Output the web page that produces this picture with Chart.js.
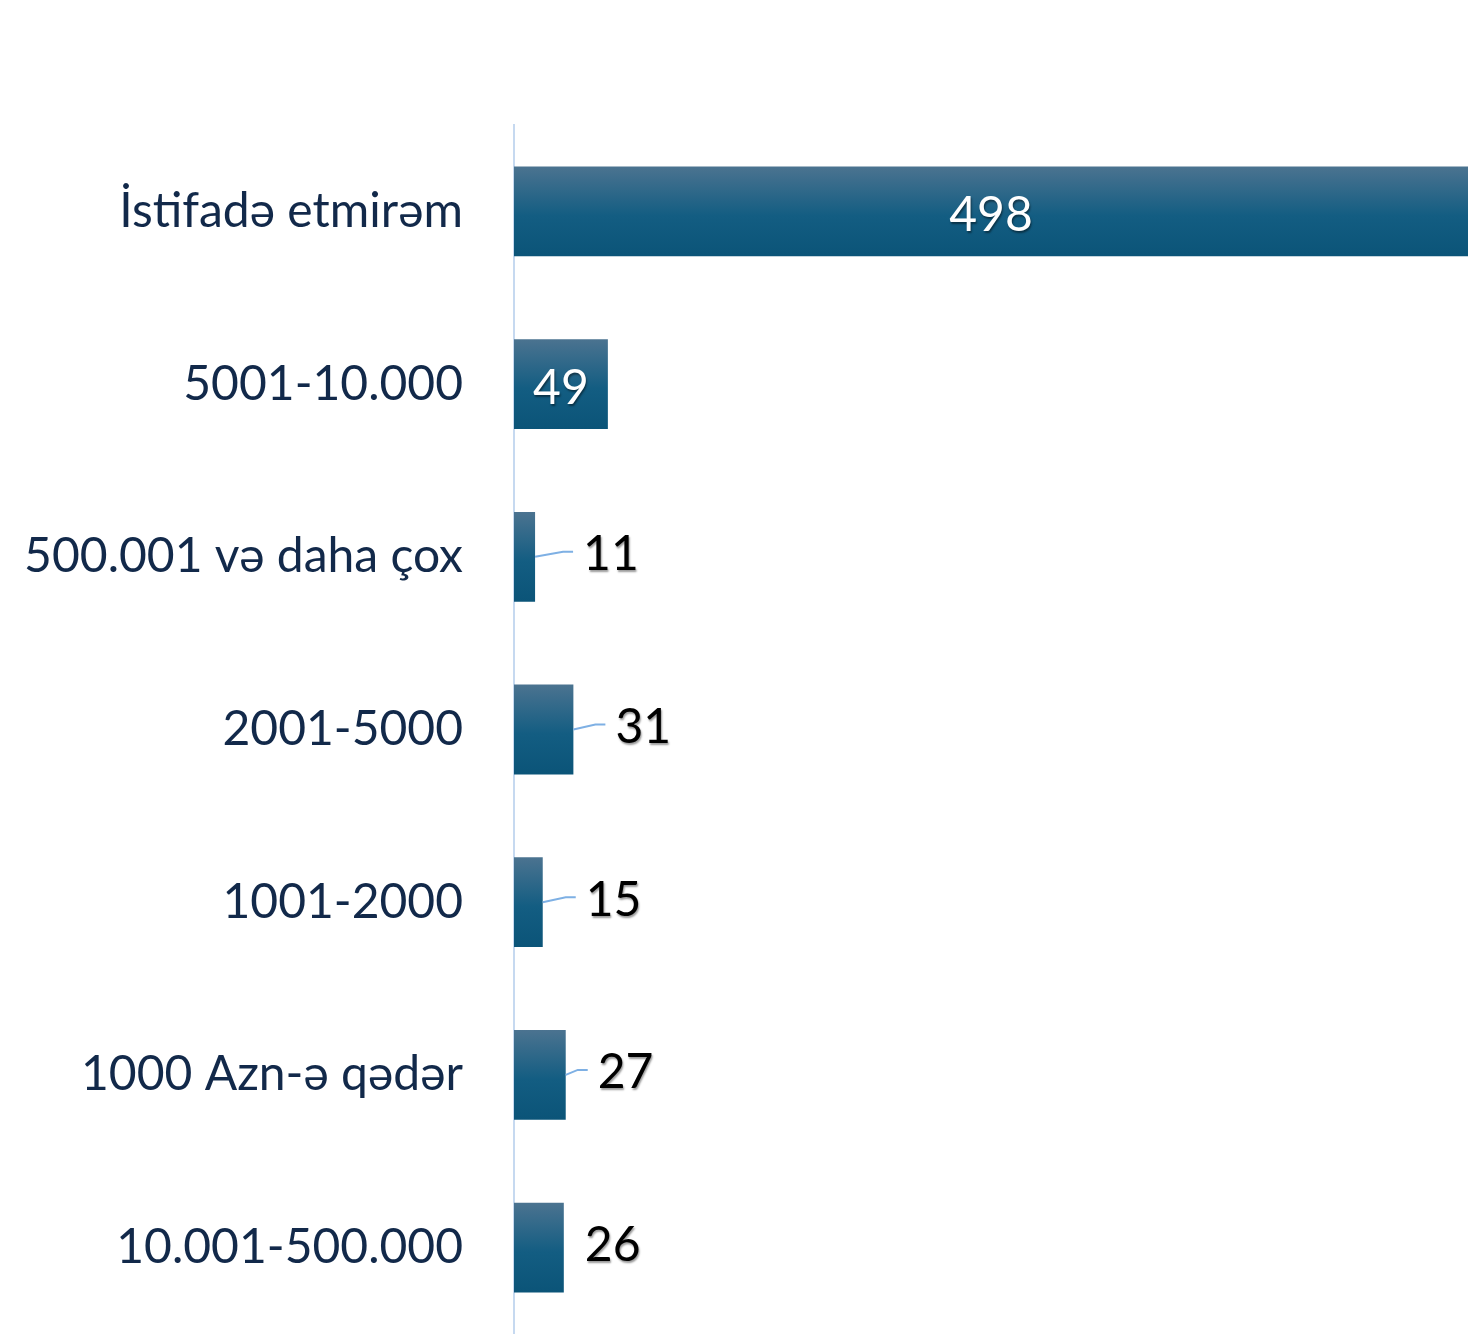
<!DOCTYPE html>
<html>
<head>
<meta charset="utf-8">
<script src="https://cdn.jsdelivr.net/npm/chart.js@4.4.1/dist/chart.umd.min.js"></script>
<style>
  html, body { margin: 0; padding: 0; background: #fff; }
  #wrap { width: 1468px; height: 1334px; position: relative; }
</style>
</head>
<body>
<div id="wrap"><canvas id="barChart"></canvas></div>
<script>
// Survey answers, in the order they appear top to bottom
const categories = [
    'İstifadə etmirəm',
    '5001-10.000',
    '500.001 və daha çox',
    '2001-5000',
    '1001-2000',
    '1000 Azn-ə qədər',
    '10.001-500.000'
];
const counts = [498, 49, 11, 31, 15, 27, 26];
const axisMax = 498;

const FONT = 'Lato, "Open Sans", sans-serif';
const BAR_PCT = 0.52;

// Vertical steel-blue gradient, built per bar from its own pixel span
function barFill(context) {
    const chart = context.chart;
    const area = chart.chartArea;
    if (!area || context.type !== 'data') return '#135d82';
    const y = chart.scales.y.getPixelForValue(context.dataIndex);
    const half = (area.bottom - area.top) / categories.length * BAR_PCT / 2;
    const g = chart.ctx.createLinearGradient(0, y - half, 0, y + half);
    g.addColorStop(0, '#4b7390');
    g.addColorStop(0.55, '#135d82');
    g.addColorStop(1, '#0b5478');
    return g;
}

// Value labels: white inside long bars, black with a callout line beside short ones
const valueLabels = {
    id: 'valueLabels',
    afterDatasetsDraw(chart) {
        const ctx = chart.ctx;
        const gaps = [0, 0, 48, 42, 43, 32, 21];
        ctx.save();
        ctx.font = '48px ' + FONT;
        ctx.textBaseline = 'middle';
        chart.getDatasetMeta(0).data.forEach((bar, i) => {
            const v = counts[i];
            const txt = String(v);
            if (v > 40) {
                ctx.textAlign = 'center';
                ctx.shadowColor = 'rgba(0,0,0,0.45)';
                ctx.shadowOffsetX = 1;
                ctx.shadowOffsetY = 2;
                ctx.shadowBlur = 2;
                ctx.fillStyle = '#ffffff';
                ctx.fillText(txt, (bar.x + bar.base) / 2, bar.y + 4);
                return;
            }
            const lx = bar.x + gaps[i];
            const ly = bar.y - 2;
            if (gaps[i] > 25) {
                ctx.shadowColor = 'transparent';
                ctx.strokeStyle = '#7eb0e4';
                ctx.lineWidth = 2;
                ctx.beginPath();
                ctx.moveTo(bar.x, bar.y);
                ctx.lineTo(lx - 20, ly - 3);
                ctx.lineTo(lx - 10, ly - 3);
                ctx.stroke();
            }
            ctx.textAlign = 'left';
            ctx.shadowColor = 'rgba(0,0,0,0.4)';
            ctx.shadowOffsetX = 1;
            ctx.shadowOffsetY = 2;
            ctx.shadowBlur = 2;
            ctx.fillStyle = '#000000';
            ctx.fillText(txt, lx, ly);
        });
        ctx.restore();
    }
};

new Chart(document.getElementById('barChart'), {
    type: 'bar',
    data: {
        labels: categories,
        datasets: [{
            data: counts,
            backgroundColor: barFill,
            barPercentage: BAR_PCT,
            categoryPercentage: 1
        }]
    },
    options: {
        indexAxis: 'y',
        responsive: true,
        maintainAspectRatio: false,
        animation: false,
        layout: { padding: { top: 125, right: 0, bottom: 0, left: 0 } },
        plugins: {
            legend: { display: false },
            tooltip: { enabled: false }
        },
        scales: {
            x: {
                display: false,
                min: 0,
                max: axisMax
            },
            y: {
                afterFit(scale) {
                    scale.width = 514;
                    scale.paddingTop = 0;
                    scale.paddingBottom = 0;
                },
                grid: { display: false, drawTicks: false },
                border: { display: true, color: '#c6d9f0', width: 2 },
                ticks: {
                    padding: 51,
                    color: '#12294a',
                    font: { family: FONT, size: 48 }
                }
            }
        }
    },
    plugins: [valueLabels]
});
</script>
</body>
</html>
